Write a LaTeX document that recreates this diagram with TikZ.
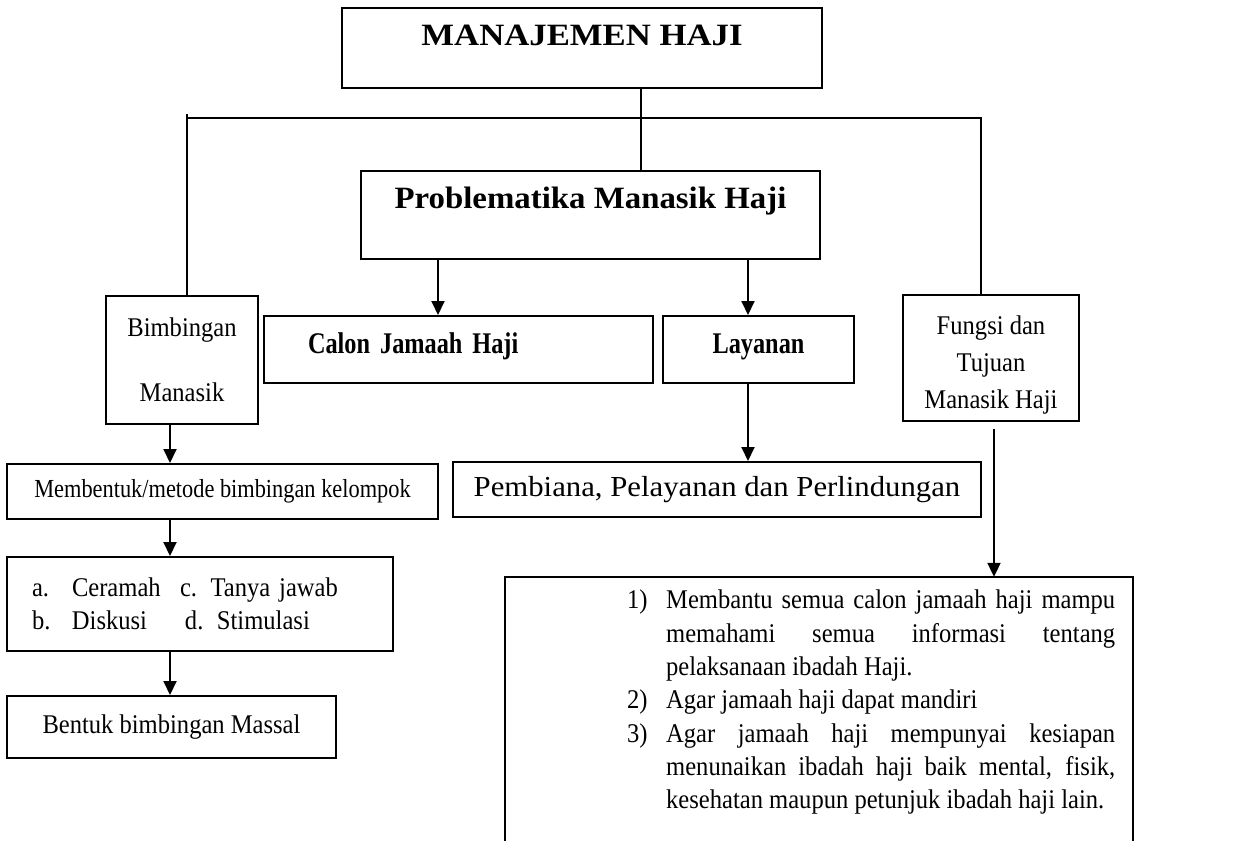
\documentclass[tikz,border=0pt]{standalone}
\usepackage{fontspec}
\setmainfont{Liberation Serif}
\usetikzlibrary{arrows.meta}
\newcommand{\huruf}[2]{\fontsize{#1}{33}\selectfont\addfontfeature{FakeStretch=#2}}

\begin{document}
\begin{tikzpicture}[x=1pt,y=-1pt,
   kotak/.style={draw,line width=2pt,inner sep=0pt,align=center,font=\huruf{27}{0.91}},
   tebal/.style={kotak,font=\bfseries\huruf{30}{0.81}},
   panah/.style={line width=2pt,-{Triangle[length=14pt,width=13pt]}},
   garis/.style={line width=2pt}]
   \useasboundingbox (0,0) rectangle (1235,841);
   % kotak-kotak
   \node[tebal,font=\bfseries\huruf{31}{1.12},minimum width=480pt,text height=37pt,text depth=43pt] (manajemen) at (582,48) {MANAJEMEN HAJI};
   \node[tebal,font=\bfseries\huruf{31}{1.06},minimum width=459pt,text height=37pt,text depth=51pt] (problem) at (590.5,215) {Problematika Manasik Haji};
   \node[tebal,minimum width=389pt,text width=301pt,inner xsep=44pt,align=left,text height=37pt,text depth=30pt] (calon) at (458.5,349.5) {Calon Jamaah Haji};
   \node[tebal,minimum width=191pt,text height=37pt,text depth=30pt] (layanan) at (758.5,349.5) {Layanan};
   \node[kotak,minimum width=152pt,minimum height=128pt] (bimbingan) at (182,360) {Bimbingan\\[32pt]Manasik};
   \node[kotak,minimum width=176pt,minimum height=126pt] (fungsi) at (991,358) {\rule{0pt}{32pt}Fungsi dan\\[4pt]Tujuan\\[4pt]Manasik Haji};
   \node[kotak,font=\huruf{26}{0.86},minimum width=431pt,minimum height=55pt] (membentuk) at (222.5,491.5) {Membentuk/metode bimbingan kelompok};
   \node[kotak,minimum width=386pt,minimum height=94pt,inner xsep=25pt,text width=336pt,align=left] (metode) at (200,604)
      {\makebox[40pt][l]{a.}\makebox[108pt][l]{Ceramah}c. Tanya jawab\\
       \makebox[40pt][l]{b.}\makebox[113pt][l]{Diskusi}\makebox[32pt][l]{d.}Stimulasi};
   \node[kotak,minimum width=329pt,minimum height=62pt] (massal) at (171.5,727) {Bentuk bimbingan Massal};
   \node[kotak,font=\huruf{29}{1.06},minimum width=528pt,minimum height=55pt] (pembiana) at (717,489.5) {Pembiana, Pelayanan dan Perlindungan};
   \node[minimum width=628pt,minimum height=264pt,inner sep=0pt] (tujuan) at (819,709) {};
   \draw[garis] (tujuan.south west) -- (tujuan.north west) -- (tujuan.north east) -- (tujuan.south east);
   \node[anchor=north west,inner sep=0pt,text width=488pt,align=justify,font={\fontsize{27}{33.3}\selectfont\addfontfeature{FakeStretch=0.91}}] (isi) at (627,590)
      {\hangindent=39pt\hangafter=1\noindent\makebox[39pt][l]{1)}Membantu semua calon jamaah haji mampu\linebreak memahami semua informasi tentang\linebreak pelaksanaan ibadah Haji.\par
       \noindent\makebox[39pt][l]{2)}Agar jamaah haji dapat mandiri\par
       \hangindent=39pt\hangafter=1\noindent\makebox[39pt][l]{3)}Agar jamaah haji mempunyai kesiapan\linebreak menunaikan ibadah haji baik mental, fisik,\linebreak kesehatan maupun petunjuk ibadah haji lain.\par};
   % garis penghubung
   \coordinate (jalur) at (641,118);
   \coordinate (kiri) at (187,118);
   \coordinate (kanan) at (981,118);
   \coordinate (kolom) at (170,0);
   \coordinate (kolomkanan) at (994,0);
   \coordinate (pc) at ([xshift=-20.5pt]calon.north);
   \coordinate (pl) at ([xshift=-10.5pt]layanan.north);
   \draw[garis] (manajemen.south -| jalur) -- (problem.north -| jalur);
   \draw[garis] ([yshift=4pt]kiri) -- (kiri |- bimbingan.north);
   \draw[garis] (kiri) -- (kanan) -- (kanan |- fungsi.north);
   \draw[panah] (pc |- problem.south) -- (pc);
   \draw[panah] (pl |- problem.south) -- (pl);
   \draw[panah] (pl |- layanan.south) -- (pl |- pembiana.north);
   \draw[panah] (kolom |- bimbingan.south) -- (kolom |- membentuk.north);
   \draw[panah] (kolom |- membentuk.south) -- (kolom |- metode.north);
   \draw[panah] (kolom |- metode.south) -- (kolom |- massal.north);
   \draw[panah] ([yshift=-7pt]kolomkanan |- fungsi.south) -- (kolomkanan |- tujuan.north);
\end{tikzpicture}
\end{document}
